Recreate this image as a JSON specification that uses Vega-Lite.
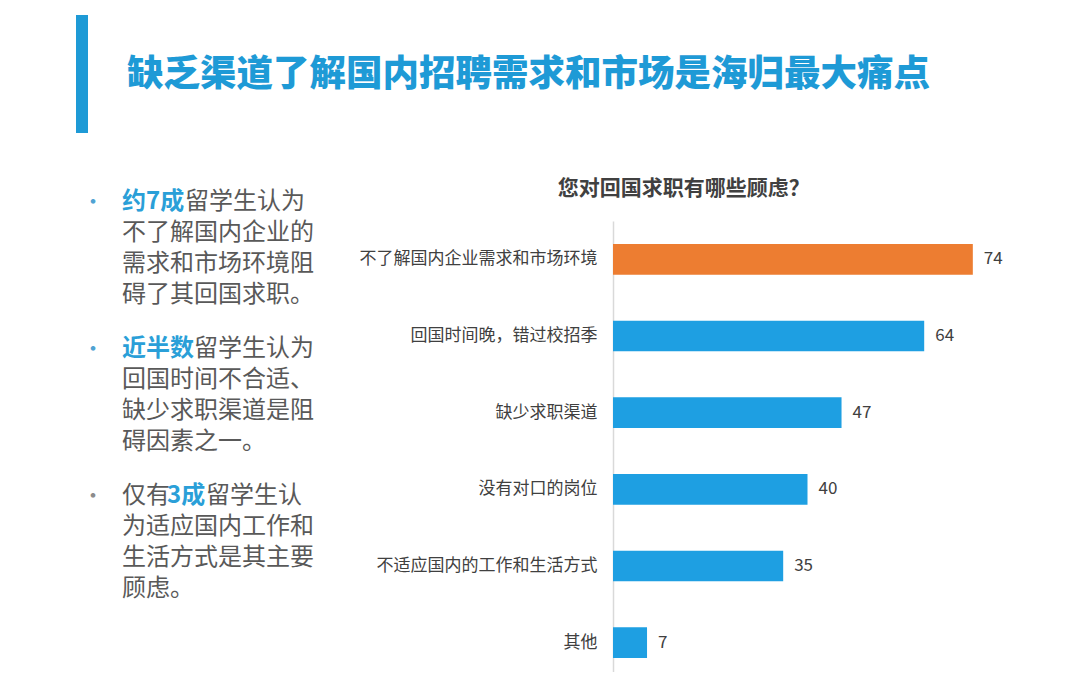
{
  "$schema": "https://vega.github.io/schema/vega-lite/v6.json",
  "padding": {"left": 76, "top": 15, "right": 0, "bottom": 0},
  "background": "white",
  "config": {
    "view": {"stroke": null},
    "font": "Noto Sans CJK SC",
    "text": {"font": "Noto Sans CJK SC"},
    "title": {"font": "Noto Sans CJK SC"},
    "axis": {"labelFont": "Noto Sans CJK SC"}
  },
  "datasets": {
    "header": [{"title": "缺乏渠道了解国内招聘需求和市场是海归最大痛点"}],
    "accent": [{"part": "accent"}],
    "reasons": [
      {"reason": "不了解国内企业需求和市场环境", "value": 74},
      {"reason": "回国时间晚，错过校招季", "value": 64},
      {"reason": "缺少求职渠道", "value": 47},
      {"reason": "没有对口的岗位", "value": 40},
      {"reason": "不适应国内的工作和生活方式", "value": 35},
      {"reason": "其他", "value": 7}
    ],
    "bullets": [
      {"point": 1, "hl": "约7成", "first": "留学生认为", "body": ["不了解国内企业的", "需求和市场环境阻", "碍了其回国求职。"]},
      {"point": 2, "hl": "近半数", "first": "留学生认为", "body": ["回国时间不合适、", "缺少求职渠道是阻", "碍因素之一。"]},
      {"point": 3, "pre": "仅有", "hl": "3成", "first": "留学生认", "body": ["为适应国内工作和", "生活方式是其主要", "顾虑。"]}
    ]
  },
  "bounds": "flush",
  "spacing": 206,
  "vconcat": [
    {
      "bounds": "flush",
      "spacing": 0,
      "hconcat": [
        {
          "width": 12,
          "height": 118,
          "data": {"name": "accent"},
          "mark": {"type": "rect", "color": "#1E9AD6"}
        },
        {
          "width": 881,
          "height": 118,
          "data": {"name": "header"},
          "mark": {"type": "text", "fontSize": 36.5, "fontWeight": 900, "color": "#1E9AD6", "align": "center", "baseline": "middle", "dy": 1},
          "encoding": {"text": {"field": "title"}}
        }
      ]
    },
    {
      "bounds": "flush",
      "spacing": 445,
      "hconcat": [
        {
          "width": 92,
          "height": 441,
          "data": {"name": "bullets"},
          "encoding": {
            "y": {"field": "point", "type": "ordinal", "axis": null, "scale": {"paddingInner": 0, "paddingOuter": 0}}
          },
          "layer": [
            {
              "mark": {"type": "text", "align": "left", "baseline": "line-top", "lineHeight": 31, "fontSize": 24, "color": "#595959", "dy": -77},
              "encoding": {"text": {"field": "body"}}
            },
            {
              "transform": [{"filter": "!datum.pre"}],
              "mark": {"type": "text", "align": "left", "baseline": "line-top", "lineHeight": 31, "fontSize": 24, "fontWeight": "bold", "color": "#2A9FD8", "dy": -108},
              "encoding": {"text": {"field": "hl"}}
            },
            {
              "transform": [{"filter": "datum.point == 1"}],
              "mark": {"type": "text", "align": "left", "baseline": "line-top", "lineHeight": 31, "fontSize": 24, "color": "#595959", "dy": -108, "dx": 63},
              "encoding": {"text": {"field": "first"}}
            },
            {
              "transform": [{"filter": "datum.point == 2"}],
              "mark": {"type": "text", "align": "left", "baseline": "line-top", "lineHeight": 31, "fontSize": 24, "color": "#595959", "dy": -108, "dx": 72},
              "encoding": {"text": {"field": "first"}}
            },
            {
              "transform": [{"filter": "datum.pre"}],
              "mark": {"type": "text", "align": "left", "baseline": "line-top", "lineHeight": 31, "fontSize": 24, "color": "#595959", "dy": -108},
              "encoding": {"text": {"field": "pre"}}
            },
            {
              "transform": [{"filter": "datum.pre"}],
              "mark": {"type": "text", "align": "left", "baseline": "line-top", "lineHeight": 31, "fontSize": 24, "fontWeight": "bold", "color": "#2A9FD8", "dy": -108, "dx": 45},
              "encoding": {"text": {"field": "hl"}}
            },
            {
              "transform": [{"filter": "datum.pre"}],
              "mark": {"type": "text", "align": "left", "baseline": "line-top", "lineHeight": 31, "fontSize": 24, "color": "#595959", "dy": -108, "dx": 84},
              "encoding": {"text": {"field": "first"}}
            },
            {
              "mark": {"type": "text", "align": "center", "baseline": "line-top", "lineHeight": 31, "fontSize": 22, "dy": -108, "dx": -29},
              "encoding": {
                "text": {"value": "•"},
                "color": {"condition": {"test": "datum.point < 3", "value": "#4FA3D3"}, "value": "#8C8C8C"}
              }
            }
          ]
        },
        {
          "width": 389,
          "height": 451,
          "title": {"text": "您对回国求职有哪些顾虑？", "fontSize": 21, "fontWeight": "bold", "color": "#404040", "anchor": "middle", "frame": "bounds", "offset": 22, "dx": 3},
          "data": {"name": "reasons"},
          "encoding": {
            "y": {
              "field": "reason", "type": "nominal", "sort": null,
              "scale": {"paddingInner": 0.6, "paddingOuter": 0.241, "align": 0.6216},
              "axis": {"title": null, "ticks": false, "labelPadding": 16, "labelFontSize": 17, "labelColor": "#404040", "labelLimit": 400, "domainColor": "#D9D9D9", "domainWidth": 1.5}
            },
            "x": {"field": "value", "type": "quantitative", "scale": {"domain": [0, 80]}, "axis": null}
          },
          "layer": [
            {
              "mark": {"type": "bar"},
              "encoding": {
                "color": {"condition": {"test": "datum.reason === '不了解国内企业需求和市场环境'", "value": "#ED7D31"}, "value": "#1E9FE2"}
              }
            },
            {
              "mark": {"type": "text", "align": "left", "baseline": "middle", "dx": 11, "fontSize": 17, "color": "#404040"},
              "encoding": {"text": {"field": "value"}}
            }
          ]
        }
      ]
    }
  ]
}
